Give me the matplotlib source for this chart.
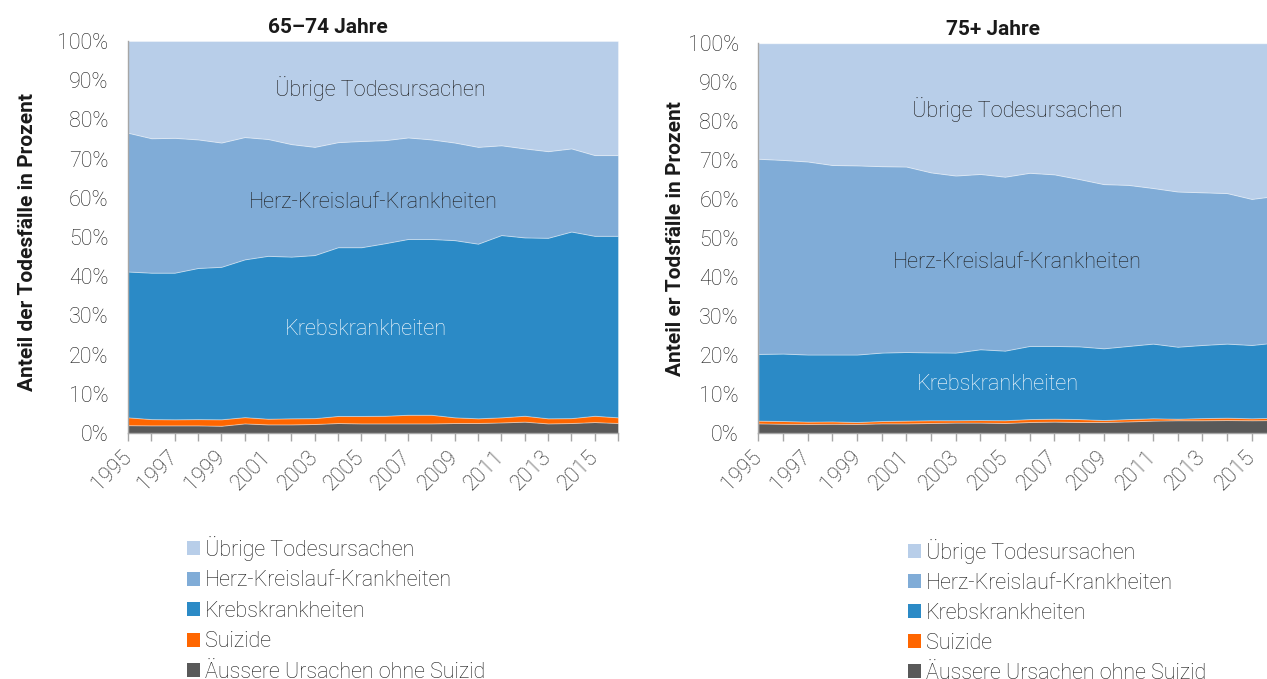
import matplotlib
matplotlib.use("Agg")
import matplotlib.pyplot as plt
from matplotlib.patches import Patch
from matplotlib.ticker import PercentFormatter

years = list(range(1995, 2017))

# 65-74 Jahre (shares in %)
aeussere_l = [2.0, 1.95, 1.95, 1.95, 1.85, 2.45, 2.2, 2.2, 2.3, 2.55, 2.45, 2.45, 2.45, 2.45, 2.55, 2.55, 2.7, 2.9, 2.45, 2.55, 2.8, 2.55]
suizide_l = [2.0, 1.6, 1.55, 1.6, 1.65, 1.6, 1.45, 1.55, 1.5, 1.8, 1.9, 1.95, 2.2, 2.2, 1.45, 1.2, 1.3, 1.5, 1.3, 1.25, 1.6, 1.45]
krebs_l = [37.2, 37.35, 37.4, 38.55, 38.9, 40.25, 41.55, 41.25, 41.6, 43.05, 43.05, 44.0, 44.85, 44.85, 45.2, 44.55, 46.5, 45.5, 46.05, 47.6, 45.9, 46.3]
herz_l = [35.4, 34.3, 34.4, 32.8, 31.7, 31.2, 29.8, 28.7, 27.6, 26.8, 27.1, 26.3, 25.9, 25.4, 24.9, 24.7, 22.9, 22.7, 22.1, 21.2, 20.6, 20.6]
uebrige_l = [23.4, 24.8, 24.7, 25.1, 25.9, 24.5, 25.0, 26.3, 27.0, 25.8, 25.5, 25.3, 24.6, 25.1, 25.9, 27.0, 26.6, 27.4, 28.1, 27.4, 29.1, 29.1]

# 75+ Jahre (shares in %)
aeussere_r = [2.55, 2.45, 2.4, 2.45, 2.4, 2.55, 2.55, 2.65, 2.75, 2.75, 2.65, 2.9, 3.0, 2.9, 2.9, 3.05, 3.25, 3.35, 3.35, 3.4, 3.35, 3.4]
suizide_r = [0.7, 0.7, 0.6, 0.6, 0.5, 0.6, 0.7, 0.7, 0.6, 0.65, 0.7, 0.75, 0.75, 0.75, 0.5, 0.6, 0.6, 0.4, 0.55, 0.6, 0.5, 0.6]
krebs_r = [17.1, 17.3, 17.2, 17.15, 17.3, 17.55, 17.6, 17.4, 17.35, 18.15, 17.85, 18.75, 18.65, 18.65, 18.4, 18.75, 19.15, 18.45, 18.75, 19.0, 18.8, 19.3]
herz_r = [50.05, 49.65, 49.5, 48.6, 48.5, 47.8, 47.55, 46.15, 45.4, 44.95, 44.6, 44.4, 44.0, 42.9, 42.1, 41.3, 39.9, 39.8, 39.15, 38.6, 37.45, 37.6]
uebrige_r = [29.6, 29.9, 30.3, 31.2, 31.3, 31.5, 31.6, 33.1, 33.9, 33.5, 34.2, 33.2, 33.6, 34.8, 36.1, 36.3, 37.1, 38.0, 38.2, 38.4, 39.9, 39.1]

labels = ["Äussere Ursachen ohne Suizid", "Suizide", "Krebskrankheiten",
          "Herz-Kreislauf-Krankheiten", "Übrige Todesursachen"]
colors = ["#595959", "#ff6600", "#2b8ac6", "#80acd7", "#b8cee9"]

titles = ["65–74 Jahre", "75+ Jahre"]
ylabels = ["Anteil der Todesfälle in Prozent", "Anteil er Todsfälle in Prozent"]

plt.rcParams['font.family'] = ['Roboto', 'DejaVu Sans']

W, H = 1267, 679
fig = plt.figure(figsize=(W / 100, H / 100), dpi=100)

def frame(x0, x1, ytop, ybot):
    return [x0 / W, 1 - ybot / H, (x1 - x0) / W, (ybot - ytop) / H]

ax_l = fig.add_axes(frame(128, 618, 41, 433))
ax_r = fig.add_axes(frame(758.3, 1276.3, 43.3, 433.3))

datasets = [
    (ax_l, [aeussere_l, suizide_l, krebs_l, herz_l, uebrige_l]),
    (ax_r, [aeussere_r, suizide_r, krebs_r, herz_r, uebrige_r]),
]

TW = "light"
TC = "#1c1c1c"
text_pos = [
    [(2005.8, 88.0, "Übrige Todesursachen", TC),
     (2005.5, 58.7, "Herz-Kreislauf-Krankheiten", TC),
     (2005.2, 26.5, "Krebskrankheiten", "white")],
    [(2005.5, 82.9, "Übrige Todesursachen", TC),
     (2005.5, 43.9, "Herz-Kreislauf-Krankheiten", TC),
     (2004.7, 12.4, "Krebskrankheiten", "white")],
]
title_x = [0.408, 0.453]
ylabel_pad = [14.5, 2]
ylabel_y = [0.487, 0.5]

for i, (ax, series) in enumerate(datasets):
    ax.stackplot(years, *series, colors=colors, linewidth=0.7,
                 edgecolor=(1, 1, 1, 0.35))
    ax.set_xlim(1995, 2016)
    ax.set_ylim(0, 100)
    ax.yaxis.set_major_formatter(PercentFormatter(decimals=0))
    ax.set_yticks(range(0, 101, 10))
    ax.set_xticks(years)
    ax.set_xticklabels([str(y) if (y - 1995) % 2 == 0 else "" for y in years],
                       rotation=45, ha="right", va="center",
                       rotation_mode="anchor")
    ax.tick_params(axis="x", length=6, width=1, color="#a6a6a6",
                   labelsize=15.5, labelcolor=TC, pad=9)
    ax.tick_params(axis="y", length=0, labelsize=15.5, labelcolor=TC, pad=14)
    for lab in ax.get_xticklabels() + ax.get_yticklabels():
        lab.set_fontweight(TW)
    for s in ["top", "right"]:
        ax.spines[s].set_visible(False)
    for s in ["left", "bottom"]:
        ax.spines[s].set_color("#a6a6a6")
        ax.spines[s].set_linewidth(1)
    ax.set_title(titles[i], fontsize=15, fontweight="bold", color="#1a1a1a",
                 pad=6, x=title_x[i])
    ax.set_ylabel(ylabels[i], fontsize=15, fontweight="bold", color="#1a1a1a",
                  labelpad=ylabel_pad[i], y=ylabel_y[i])
    for (x, y, t, c) in text_pos[i]:
        ax.text(x, y, t, ha="center", va="center", fontsize=15.6,
                fontweight=TW, color=c)

handles = [Patch(facecolor=c) for c in colors][::-1]
leg_labels = labels[::-1]
for x0, y0, ls in [(178 / W, 1 - 527 / H, 0.445), (899 / W, 1 - 530 / H, 0.42)]:
    leg = fig.legend(handles, leg_labels, loc="upper left", bbox_to_anchor=(x0, y0),
                     frameon=False, fontsize=15.5, handlelength=0.62, handleheight=0.62,
                     handletextpad=0.25, labelspacing=ls, borderaxespad=0)
    for t in leg.get_texts():
        t.set_fontweight(TW)
        t.set_color(TC)

fig.savefig("out.png", dpi=100)
